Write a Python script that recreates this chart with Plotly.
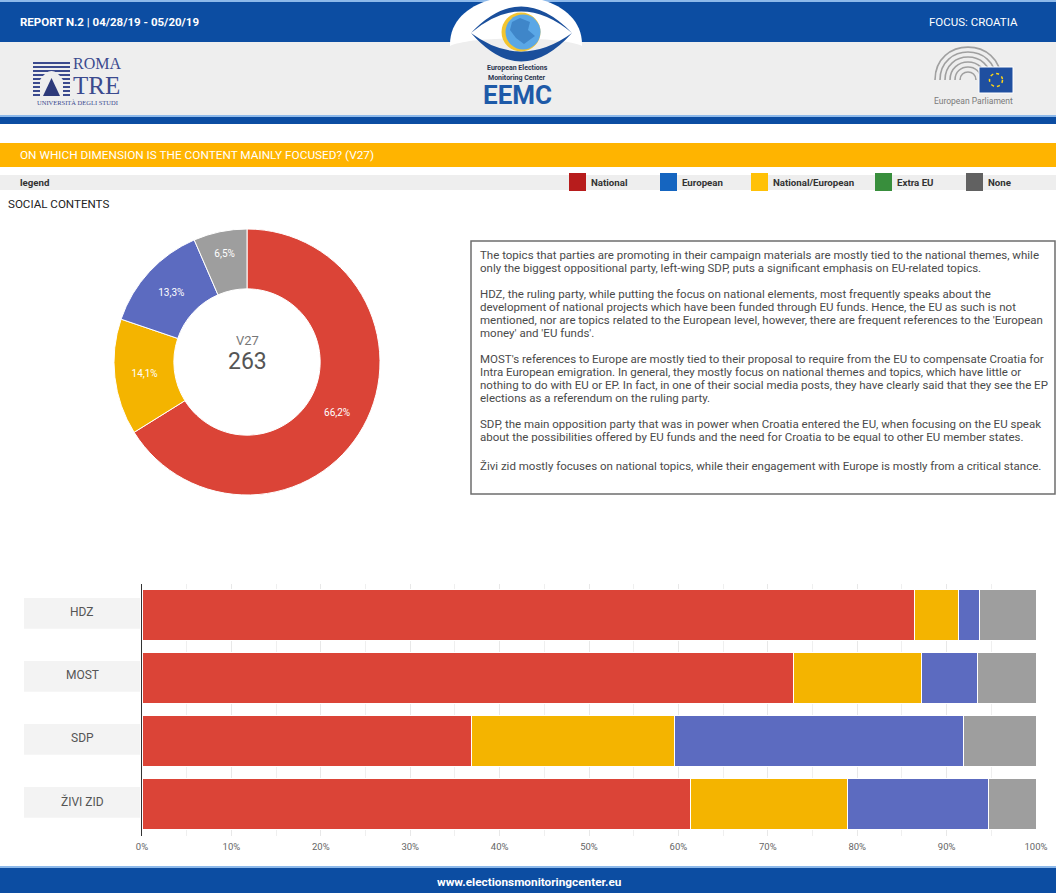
import plotly.graph_objects as go

W, H = 1056, 893

# ---------------- data ----------------
pie_labels = ["National", "National/European", "European", "None"]
pie_values = [66.2, 14.1, 13.3, 6.5]
pie_colors = ["#DB4437", "#F4B400", "#5C6BC0", "#9E9E9E"]
pie_title = "V27"
pie_total = "263"

parties = ["HDZ", "MOST", "SDP", "ŽIVI ZID"]
series_names = ["National", "National/European", "European", "None"]
national = [86.4, 72.9, 36.9, 61.3]
national_european = [4.9, 14.3, 22.7, 17.6]
european = [2.4, 6.3, 32.3, 15.8]
none_vals = [6.3, 6.5, 8.1, 5.3]
series_colors = ["#DB4437", "#F4B400", "#5C6BC0", "#9E9E9E"]

x_tick_vals = [0, 10, 20, 30, 40, 50, 60, 70, 80, 90, 100]
x_tick_text = ["0%", "10%", "20%", "30%", "40%", "50%", "60%", "70%", "80%", "90%", "100%"]

legend_labels = ["National", "European", "National/European", "Extra EU", "None"]
legend_colors = ["#B71C1C", "#1565C0", "#FFC107", "#388E3C", "#616161"]

header_left = "REPORT N.2 | 04/28/19 - 05/20/19"
header_right = "FOCUS: CROATIA"
question = "ON WHICH DIMENSION IS THE CONTENT MAINLY FOCUSED? (V27)"
section = "SOCIAL CONTENTS"
footer = "www.electionsmonitoringcenter.eu"

body_lines = [
    "The topics that parties are promoting in their campaign materials are mostly tied to the national themes, while",
    "only the biggest oppositional party, left-wing SDP, puts a significant emphasis on EU-related topics.",
    "HDZ, the ruling party, while putting the focus on national elements, most frequently speaks about the",
    "development of national projects which have been funded through EU funds. Hence, the EU as such is not",
    "mentioned, nor are topics related to the European level, however, there are frequent references to the 'European",
    "money' and 'EU funds'.",
    "MOST's references to Europe are mostly tied to their proposal to require from the EU to compensate Croatia for",
    "Intra European emigration. In general, they mostly focus on national themes and topics, which have little or",
    "nothing to do with EU or EP. In fact, in one of their social media posts, they have clearly said that they see the EP",
    "elections as a referendum on the ruling party.",
    "SDP, the main opposition party that was in power when Croatia entered the EU, when focusing on the EU speak",
    "about the possibilities offered by EU funds and the need for Croatia to be equal to other EU member states.",
    "Živi zid mostly focuses on national topics, while their engagement with Europe is mostly from a critical stance.",
]
body_y = [255, 268, 294, 307, 320, 333, 359, 372, 385, 398, 424, 437, 466]

# ---------------- helpers ----------------
def px(x):
    return x / W


def py(y):
    return 1 - y / H


COND = "Roboto, Arial, sans-serif"
ROB = "Roboto, Arial, sans-serif"
SERIF = "Liberation Serif, DejaVu Serif, serif"

shapes = []
annotations = []


def rect(x0, y0, x1, y1, fill, line_color=None, line_width=0, layer="below"):
    shapes.append(dict(type="rect", xref="paper", yref="paper",
                       x0=px(x0), x1=px(x1), y0=py(y1), y1=py(y0),
                       fillcolor=fill, layer=layer,
                       line=dict(color=line_color or fill, width=line_width)))


def circle(cx, cy, r, fill=None, line_color=None, line_width=0, dash="solid"):
    shapes.append(dict(type="circle", xref="paper", yref="paper",
                       x0=px(cx - r), x1=px(cx + r), y0=py(cy + r), y1=py(cy - r),
                       fillcolor=fill if fill else "rgba(0,0,0,0)", layer="below",
                       line=dict(color=line_color or "rgba(0,0,0,0)", width=line_width, dash=dash)))


def path(cmds, fill=None, line_color=None, line_width=0):
    parts = []
    for c in cmds:
        op = c[0]
        nums = c[1:]
        pts = []
        for i in range(0, len(nums), 2):
            pts.append(f"{px(nums[i]):.5f},{py(nums[i + 1]):.5f}")
        parts.append(op + " ".join(pts))
    shapes.append(dict(type="path", xref="paper", yref="paper", path=" ".join(parts),
                       fillcolor=fill if fill else "rgba(0,0,0,0)", layer="below",
                       line=dict(color=line_color or "rgba(0,0,0,0)", width=line_width)))


def ann(x, y, text, size, color, family=ROB, xanchor="left"):
    annotations.append(dict(x=px(x), y=py(y), xref="paper", yref="paper", text=text,
                            showarrow=False, xanchor=xanchor, yanchor="middle",
                            font=dict(size=size, color=color, family=family)))


# ---------------- header ----------------
BLUE = "#0C4DA2"
rect(0, 0, W, 42, BLUE)
rect(0, 0, W, 2, "#8DB9EA")
# white dome behind the logo
path([("M", 450, 46), ("C", 448, -20, 584, -20, 582, 46), ("Z",)], fill="#FFFFFF")
rect(0, 42, 450, 117, "#EEEEEE")
rect(582, 42, W, 117, "#EEEEEE")
rect(450, 46, 582, 117, "#EEEEEE")
path([("M", 450, 46), ("C", 470, 36, 562, 36, 582, 46), ("Z",)], fill="#EEEEEE")
rect(0, 115, W, 117, "#8DB9EA")
rect(0, 117, W, 124, BLUE)

# EEMC eye logo
path([("M", 471, 33), ("Q", 521, -20, 572, 33), ("Q", 521, -10, 471, 33), ("Z",)], fill="#1A4F9C")
path([("M", 471, 33), ("Q", 521, 90, 572, 33), ("Q", 521, 70, 471, 33), ("Z",)], fill="#1A4F9C")
circle(521, 32, 19.5, fill="#F3C530")
circle(523, 32, 17.5, fill="#5AA7E6")
path([("M", 512, 22), ("L", 520, 18), ("L", 530, 22), ("L", 528, 30), ("L", 535, 36),
      ("L", 524, 44), ("L", 516, 38), ("L", 510, 30), ("Z",)], fill="#3F86C9")
ann(517, 68, "<b>European Elections</b>", 7, "#2A3550", COND, "center")
ann(517, 78, "<b>Monitoring Center</b>", 7, "#2A3550", COND, "center")
ann(517, 95, "<b>EEMC</b>", 26, "#1E5AA8", COND, "center")

# Roma Tre logo
NAVY = "#3B4A8E"
for k in range(9):
    yy = 63 + k * 4
    path([("M", 33, yy), ("L", 70, yy)], line_color=NAVY, line_width=2)
path([("M", 40, 97), ("L", 40, 80), ("Q", 51.5, 62, 63, 80), ("L", 63, 97), ("Z",)], fill="#EEEEEE")
path([("M", 43, 96), ("L", 51.5, 78), ("L", 60, 96), ("Z",)], fill="#2D3A7A")
ann(71, 64, "ROMA", 16, NAVY, SERIF, "left")
ann(71, 86, "TRE", 25, NAVY, SERIF, "left")
ann(77, 102, "UNIVERSITÀ DEGLI STUDI", 6.5, NAVY, SERIF, "center")

# European Parliament logo
cx, cy = 968, 80
for r in [8, 13, 18, 23, 28, 33]:
    path([("M", cx - r, cy), ("C", cx - r, cy - 1.33 * r, cx + r, cy - 1.33 * r, cx + r, cy)],
         line_color="#A0A0A0", line_width=1.6)
rect(979, 67, 1013, 93, "#1F4FA0", line_color="#FFFFFF", line_width=1)
circle(996, 80, 6.5, line_color="#FFD617", line_width=1.5, dash="dot")
ann(973, 101, "European Parliament", 8.5, "#7A7A7A", COND, "center")

ann(18, 22, "<b>" + header_left + "</b>", 11.5, "#FFFFFF", COND)
ann(1020, 22, header_right, 11.5, "#FFFFFF", COND, "right")

# question banner and legend row
rect(0, 143, W, 167, "#FFB400")
ann(18, 155, question, 11.8, "#FFFFFF", COND)
rect(0, 175, W, 190, "#EEEEEE")
ann(18, 182, "<b>legend</b>", 9.7, "#333333", COND)
legend_x = [569, 660, 751, 875, 966]
for lx, lab, col in zip(legend_x, legend_labels, legend_colors):
    rect(lx, 173, lx + 17, 191, col)
    ann(lx + 20, 182, "<b>" + lab + "</b>", 9.7, "#333333", COND)

ann(6, 204, section, 11.6, "#222222", COND)

# text box
rect(471, 241, 1055, 494, "rgba(0,0,0,0)", line_color="#6E6E6E", line_width=1.5)
for t, yy in zip(body_lines, body_y):
    ann(478, yy, t, 11.5, "#4A4A4A", ROB)

# footer
rect(0, 866, W, 868, "#8DB9EA")
rect(0, 868, W, H, BLUE)
ann(529, 882, "<b>" + footer + "</b>", 11.8, "#FFFFFF", COND, "center")

# donut centre text
ann(247, 341, pie_title, 13, "#777777", ROB, "center")
ann(247, 362, pie_total, 23, "#555555", ROB, "center")

# category label boxes
for i, p in enumerate(parties):
    shapes.append(dict(type="rect", xref="paper", yref="y", x0=px(24), x1=px(140),
                       y0=i - 0.27, y1=i + 0.22, fillcolor="#F3F3F3", layer="below",
                       line=dict(width=0)))
    annotations.append(dict(x=px(82), y=p, xref="paper", yref="y", text=p, showarrow=False,
                            xanchor="center", yanchor="middle", yshift=3,
                            font=dict(size=12, color="#555555", family=ROB)))

# ---------------- traces ----------------
fig = go.Figure()

pie_text = [f"{v:.1f}%".replace(".", ",") for v in pie_values]
fig.add_trace(go.Pie(labels=pie_labels, values=pie_values, text=pie_text, textinfo="text",
                     hole=0.55, sort=False, direction="clockwise", rotation=0,
                     marker=dict(colors=pie_colors, line=dict(color="#FFFFFF", width=1)),
                     textposition="inside", insidetextorientation="horizontal",
                     textfont=dict(color="#FFFFFF", size=10, family=ROB),
                     domain=dict(x=[px(114), px(380)], y=[py(495), py(229)]),
                     showlegend=False, hoverinfo="label+percent"))

for name, vals, col in zip(series_names, [national, national_european, european, none_vals], series_colors):
    fig.add_trace(go.Bar(y=parties, x=vals, name=name, orientation="h",
                         marker=dict(color=col, line=dict(color="#FFFFFF", width=1)),
                         showlegend=False, xaxis="x", yaxis="y"))

fig.update_layout(
    width=W, height=H, autosize=False,
    margin=dict(l=0, r=0, t=0, b=0, pad=0, autoexpand=False),
    paper_bgcolor="#FFFFFF", plot_bgcolor="#FFFFFF",
    barmode="stack", bargap=0.2,
    shapes=shapes, annotations=annotations,
    xaxis=dict(domain=[px(142), px(1036)], range=[0, 100], tickvals=x_tick_vals,
               ticktext=x_tick_text, showgrid=True, gridcolor="#E8E8E8", zeroline=False,
               showline=False, ticks="", tickfont=dict(size=9.5, color="#666666", family=ROB),
               ticklabelstandoff=4,
               minor=dict(dtick=5, tick0=0, showgrid=True, gridcolor="#EFEFEF"),
               automargin=False, fixedrange=True),
    yaxis=dict(domain=[py(835.5), py(583.5)], categoryorder="array", categoryarray=parties,
               autorange="reversed", showticklabels=False, showgrid=False, zeroline=False,
               showline=True, linecolor="#333333", linewidth=1, ticks="", automargin=False,
               fixedrange=True),
    font=dict(family=ROB),
)

fig.write_html("out.html",
               config={"responsive": False, "displayModeBar": False},
               post_script="document.documentElement.style.overflow='hidden';"
                           "document.body.style.margin='0';document.body.style.overflow='hidden';")
